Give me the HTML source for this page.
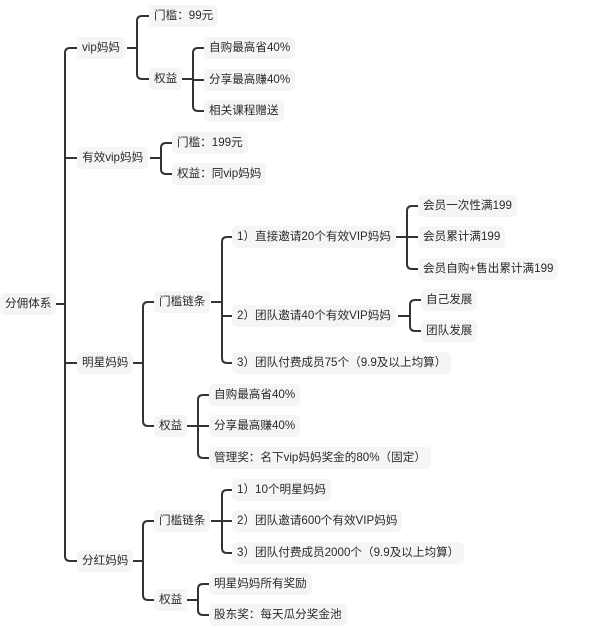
<!DOCTYPE html>
<html><head><meta charset="utf-8"><style>
html,body{margin:0;padding:0;background:#fff;width:600px;height:627px;overflow:hidden;position:relative}
.n{position:absolute;font-family:"Liberation Sans","Noto Sans CJK SC",sans-serif;font-size:11.6px;color:#2a2a2a;background:#f5f5f5;border-radius:5px;padding:0 5px;height:22px;line-height:22px;white-space:nowrap;transform:translateY(-50%)}
svg{position:absolute;left:0;top:0}
</style></head><body>
<svg id="s" width="600" height="627"></svg>
<div class="n" style="left:0;top:304px">分佣体系</div>
<div class="n" style="left:77px;top:48px">vip妈妈</div>
<div class="n" style="left:149px;top:16px">门槛：99元</div>
<div class="n" style="left:149px;top:79px">权益</div>
<div class="n" style="left:204px;top:48px">自购最高省40%</div>
<div class="n" style="left:204px;top:80px">分享最高赚40%</div>
<div class="n" style="left:204px;top:111px">相关课程赠送</div>
<div class="n" style="left:77px;top:158px">有效vip妈妈</div>
<div class="n" style="left:172px;top:143px">门槛：199元</div>
<div class="n" style="left:172px;top:174px">权益：同vip妈妈</div>
<div class="n" style="left:77px;top:363px">明星妈妈</div>
<div class="n" style="left:154px;top:302px">门槛链条</div>
<div class="n" style="left:232px;top:237px">1）直接邀请20个有效VIP妈妈</div>
<div class="n" style="left:418px;top:206px">会员一次性满199</div>
<div class="n" style="left:418px;top:237px">会员累计满199</div>
<div class="n" style="left:418px;top:269px">会员自购+售出累计满199</div>
<div class="n" style="left:232px;top:316px">2）团队邀请40个有效VIP妈妈</div>
<div class="n" style="left:421px;top:300px">自己发展</div>
<div class="n" style="left:421px;top:331px">团队发展</div>
<div class="n" style="left:232px;top:363px">3）团队付费成员75个（9.9及以上均算）</div>
<div class="n" style="left:154px;top:426px">权益</div>
<div class="n" style="left:209px;top:395px">自购最高省40%</div>
<div class="n" style="left:209px;top:426px">分享最高赚40%</div>
<div class="n" style="left:209px;top:458px">管理奖：名下vip妈妈奖金的80%（固定）</div>
<div class="n" style="left:77px;top:561px">分红妈妈</div>
<div class="n" style="left:154px;top:521px">门槛链条</div>
<div class="n" style="left:232px;top:490px">1）10个明星妈妈</div>
<div class="n" style="left:232px;top:521px">2）团队邀请600个有效VIP妈妈</div>
<div class="n" style="left:232px;top:553px">3）团队付费成员2000个（9.9及以上均算）</div>
<div class="n" style="left:154px;top:600px">权益</div>
<div class="n" style="left:209px;top:584px">明星妈妈所有奖励</div>
<div class="n" style="left:209px;top:615px">股东奖：每天瓜分奖金池</div>
<script>
var g=[
[55,304,65,77,[48,158,363,561]],
[127,48,137,149,[16,79]],
[182,79,193,204,[48,80,111]],
[150,158,161,172,[143,174]],
[131,363,143,154,[302,426]],
[211,302,222,232,[237,316,363]],
[395,237,407,418,[206,237,269]],
[398,316,410,421,[300,331]],
[182,426,198,209,[395,426,458]],
[131,561,143,154,[521,600]],
[211,521,222,232,[490,521,553]],
[182,600,198,209,[584,615]]];
var d="",r=5;
g.forEach(function(a){var px=a[0],py=a[1],sx=a[2],cx=a[3],c=a[4];
d+="M"+px+" "+py+"H"+sx;
var t=c[0],b=c[c.length-1];
d+="M"+cx+" "+t+"H"+(sx+r)+"Q"+sx+" "+t+" "+sx+" "+(t+r)+"V"+(b-r)+"Q"+sx+" "+b+" "+(sx+r)+" "+b+"H"+cx;
for(var i=1;i<c.length-1;i++)d+="M"+sx+" "+c[i]+"H"+cx;});
document.getElementById("s").innerHTML='<path d="'+d+'" fill="none" stroke="#333" stroke-width="2"/>';
</script>
</body></html>
